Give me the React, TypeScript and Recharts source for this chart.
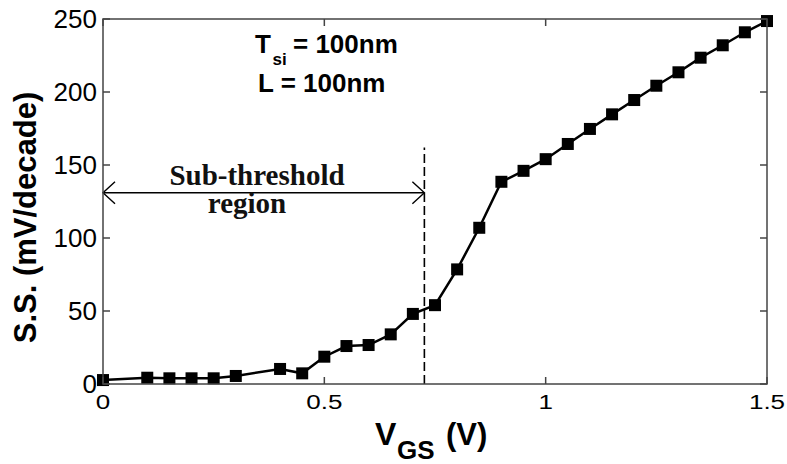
import React from "react"
import { ComposedChart, Line, XAxis, YAxis, ReferenceLine } from "recharts"

const vgs = [0, 0.1, 0.15, 0.2, 0.25, 0.3, 0.4, 0.45, 0.5, 0.55, 0.6, 0.65, 0.7, 0.75, 0.8, 0.85, 0.9, 0.95, 1.0, 1.05, 1.1, 1.15, 1.2, 1.25, 1.3, 1.35, 1.4, 1.45, 1.5]
const ss = [2.7, 4.3, 3.9, 3.9, 3.9, 5.5, 10.3, 7.3, 18.7, 26, 26.7, 34, 48, 54, 78.5, 107, 138.5, 146, 154, 164.4, 174.7, 184.7, 194.5, 204.3, 213.5, 223.5, 232, 240.9, 248.6]
const xTicks = [0, 0.5, 1, 1.5]
const yTicks = [0, 50, 100, 150, 200, 250]
const thresholdV = 0.726
const arrowLevel = 131
const dashTop = 162

const data = vgs.map((v, i) => ({ vgs: v, ss: ss[i] }))

const frameColor = "#444"
const sans = "'Liberation Sans', Arial, sans-serif"
const serif = "'Liberation Serif', 'Times New Roman', serif"
const tickLen = 7

// plot box, same as the chart margins + axis sizes below
const plotLeft = 103
const plotTop = 19
const plotRight = 767
const plotBottom = 384
const xMax = 1.5
const yMax = 250
const px = (v: number) => plotLeft + (v / xMax) * (plotRight - plotLeft)
const py = (v: number) => plotBottom - (v / yMax) * (plotBottom - plotTop)

const SquareDot = (props: any) => {
  const { cx, cy } = props
  if (cx == null || cy == null) return null
  return <rect x={cx - 6} y={cy - 6} width={12} height={12} fill="#000" />
}

const XTickLabel = (props: any) => {
  const { x, y, payload } = props
  return (
    <g transform={`translate(${x},${y + 25}) scale(1,0.75)`}>
      <text x={0} y={0} textAnchor="middle" fontSize={26} fontFamily={sans} fill="#000">
        {payload.value}
      </text>
    </g>
  )
}

const YTickLabel = (props: any) => {
  const { x, y, payload } = props
  return (
    <text x={x - 6} y={y} dy="0.36em" textAnchor="end" fontSize={26} fontFamily={sans} fill="#000">
      {payload.value}
    </text>
  )
}

const DoubleArrow = (props: any) => {
  const { x1, y1, x2 } = props
  const left = Math.min(x1, x2)
  const right = Math.max(x1, x2)
  const y = y1
  return (
    <g stroke="#000" strokeWidth={1.4} fill="none">
      <line x1={left} y1={y} x2={right} y2={y} />
      <polyline points={`${left + 12},${y - 11} ${left},${y} ${left + 12},${y + 11}`} />
      <polyline points={`${right - 12},${y - 11} ${right},${y} ${right - 12},${y + 11}`} />
    </g>
  )
}

export default function App() {
  return (
    <div style={{ position: "absolute", left: 0, top: 0, width: 787, height: 464 }}>
      <ComposedChart
        width={787}
        height={464}
        data={data}
        margin={{ top: plotTop, right: 787 - plotRight, bottom: 0, left: 0 }}
      >
        <XAxis
          dataKey="vgs"
          type="number"
          domain={[0, xMax]}
          ticks={xTicks}
          height={464 - plotBottom}
          axisLine={false}
          tickLine={false}
          tickSize={0}
          tickMargin={0}
          tick={<XTickLabel />}
        />
        <YAxis
          type="number"
          domain={[0, yMax]}
          ticks={yTicks}
          width={plotLeft}
          axisLine={false}
          tickLine={false}
          tickSize={0}
          tickMargin={0}
          tick={<YTickLabel />}
        />
        <ReferenceLine
          segment={[{ x: thresholdV, y: 0 }, { x: thresholdV, y: dashTop }]}
          stroke="#000"
          strokeWidth={1.6}
          strokeDasharray="9 4"
        />
        <ReferenceLine
          segment={[{ x: 0, y: arrowLevel }, { x: thresholdV, y: arrowLevel }]}
          shape={(p: any) => <DoubleArrow {...p} />}
        />
        <Line
          dataKey="ss"
          stroke="#000"
          strokeWidth={2.5}
          dot={<SquareDot />}
          isAnimationActive={false}
        />
      </ComposedChart>
      <svg
        width={787}
        height={464}
        style={{ position: "absolute", left: 0, top: 0, pointerEvents: "none" }}
      >
        {/* box frame with inward ticks on all four sides */}
        <g stroke={frameColor} strokeWidth={1.5} fill="none">
          <rect x={plotLeft} y={plotTop} width={plotRight - plotLeft} height={plotBottom - plotTop} />
          {xTicks.map((t) => (
            <g key={`xt${t}`}>
              <line x1={px(t)} y1={plotBottom} x2={px(t)} y2={plotBottom - tickLen} />
              <line x1={px(t)} y1={plotTop} x2={px(t)} y2={plotTop + tickLen} />
            </g>
          ))}
          {yTicks.map((t) => (
            <g key={`yt${t}`}>
              <line x1={plotLeft} y1={py(t)} x2={plotLeft + tickLen} y2={py(t)} />
              <line x1={plotRight} y1={py(t)} x2={plotRight - tickLen} y2={py(t)} />
            </g>
          ))}
        </g>
        <text transform="translate(36,217.5) rotate(-90)" textAnchor="middle" fontSize={31} fontWeight="bold" fontFamily={sans} fill="#000">
          S.S. (mV/decade)
        </text>
        <text fontWeight="bold" fontFamily={sans} fill="#000">
          <tspan x={375} y={445} fontSize={32}>V</tspan>
          <tspan x={397} y={459} fontSize={26}>GS</tspan>
          <tspan x={446} y={445} fontSize={31}>(V)</tspan>
        </text>
        <text fontWeight="bold" fontFamily={sans} fill="#000">
          <tspan x={255} y={53} fontSize={26}>T</tspan>
          <tspan x={272.5} y={65} fontSize={17}>si</tspan>
          <tspan x={293} y={53} fontSize={26}>= 100nm</tspan>
        </text>
        <text x={258} y={92} fontWeight="bold" fontFamily={sans} fontSize={26} fill="#000">
          L = 100nm
        </text>
        <text x={257} y={185} textAnchor="middle" fontWeight="bold" fontFamily={serif} fontSize={29} fill="#111">
          Sub-threshold
        </text>
        <text x={247} y={213} textAnchor="middle" fontWeight="bold" fontFamily={serif} fontSize={29} fill="#111">
          region
        </text>
      </svg>
    </div>
  )
}
